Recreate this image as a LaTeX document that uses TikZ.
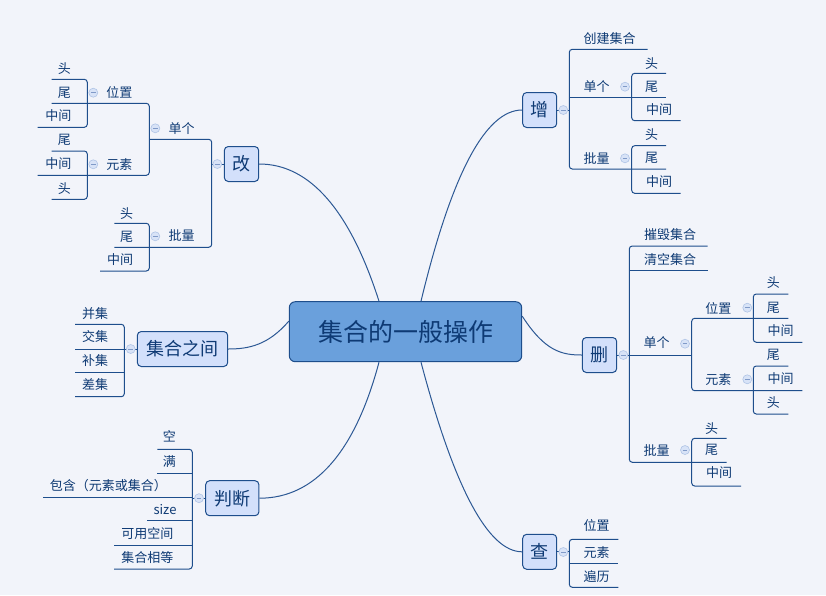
\documentclass[tikz,border=0pt]{standalone}
\usepackage{fontspec}
\newfontfamily\cjk{Noto Sans CJK SC}
\definecolor{bg}{RGB}{242,244,250}
\definecolor{navy}{RGB}{30,78,140}
\definecolor{ink}{RGB}{14,58,116}
\definecolor{rootfill}{RGB}{106,160,220}
\definecolor{subfill}{RGB}{211,224,251}
\definecolor{curve}{RGB}{44,88,148}
\definecolor{foldfill}{RGB}{216,227,247}
\definecolor{foldline}{RGB}{176,196,230}
\definecolor{foldmark}{RGB}{128,154,200}
\tikzset{
  root/.style={draw=navy, line width=1pt, fill=rootfill, rounded corners=6pt,
    minimum width=232.4pt, minimum height=60pt, inner sep=0pt,
    text=ink, font=\cjk\fontsize{25}{28}\selectfont},
  topic/.style={draw=navy, line width=1pt, fill=subfill, rounded corners=4pt,
    minimum height=35pt, inner sep=0pt, text=ink,
    font=\cjk\fontsize{18}{21}\selectfont},
  leaf/.style={inner sep=0pt, text=ink, font=\cjk\fontsize{13}{15}\selectfont},
  branch/.style={draw=navy, line width=1pt, rounded corners=3pt},
  conn/.style={draw=curve, line width=1pt},
  fold/.style={circle, draw=foldline, line width=0.6pt, fill=foldfill,
    minimum size=9pt, inner sep=0pt,
    path picture={\draw[foldmark, line width=0.8pt]
      ([xshift=-2.4pt]path picture bounding box.center) --
      ([xshift=2.4pt]path picture bounding box.center);}}
}
\begin{document}
\begin{tikzpicture}[x=1pt,y=-1pt]
\fill[bg] (0,0) rectangle (826,595);
\useasboundingbox (0,0) rectangle (826,595);

% central topic and main topics
\node[root] (root) at (405.5,331.7) {集合的一般操作};
\node[topic, minimum width=34pt] (zeng) at (539.7,110) {增};
\node[topic, minimum width=34.4pt] (shan) at (599.5,355) {删};
\node[topic, minimum width=34pt] (cha) at (539.7,551.8) {查};
\node[topic, minimum width=34.4pt] (gai) at (241.5,164) {改};
\node[topic, minimum width=90.4pt] (jhzj) at (182.5,349) {集合之间};
\node[topic, minimum width=53.3pt] (pd) at (232.3,498.2) {判断};

% curved connectors from the central topic
\draw[conn] ([xshift=15.5pt]root.north) .. controls (451.7,173.7) and (485.6,110) .. (zeng.west);
\draw[conn] ([xshift=-26.5pt]root.north) .. controls (349.7,209.7) and (309.4,164) .. (gai.east);
\draw[conn] ([xshift=-26.5pt]root.south) .. controls (355,452.1) and (314.8,498.2) .. (pd.east);
\draw[conn] ([xshift=15.5pt]root.south) .. controls (454.3,488.1) and (488.2,551.8) .. (cha.west);
\draw[conn] ([yshift=15.6pt]root.east) .. controls (545,351.5) and (562,355) .. (shan.west);
\draw[conn] ([yshift=10.6pt]root.west) .. controls (268,345.5) and (248,349) .. (jhzj.east);

% ---- 增 ----
\draw[branch] (zeng.east) -- (569.3,110);
\draw[branch] (647.7,49.3) -- (569.3,49.3) -- (569.3,169) -- (666,169);
\draw[branch] (569.3,97.7) -- (666,97.7);
\draw[branch] (666,73.3) -- (631.7,73.3) -- (631.7,120.7) -- (680.7,120.7);
\draw[branch] (666,145.7) -- (631.7,145.7) -- (631.7,193.3) -- (680.7,193.3);
\node[leaf] (z1) at (609.7,38.3) {创建集合};
\node[leaf] (z2) at (596.7,86.7) {单个};
\node[leaf] (z21) at (651.7,63.3) {头};
\node[leaf] (z22) at (651.7,86.7) {尾};
\node[leaf] (z23) at (659,110) {中间};
\node[leaf] (z3) at (596.7,158.3) {批量};
\node[leaf] (z31) at (651.7,135) {头};
\node[leaf] (z32) at (651.7,158.3) {尾};
\node[leaf] (z33) at (659,181.7) {中间};
\node[fold] (fz) at (563.3,110) {};
\node[fold] (fz2) at (625,86.7) {};
\node[fold] (fz3) at (625,158.3) {};

% ---- 删 ----
\draw[branch] (shan.east) -- (629.3,355);
\draw[branch] (707.7,246) -- (629.3,246) -- (629.3,462.3) -- (726.7,462.3);
\draw[branch] (629.3,270.7) -- (707.7,270.7);
\draw[branch] (629.3,355) -- (691.7,355);
\draw[branch] (788.3,318.3) -- (691.7,318.3) -- (691.7,390.7) -- (802.3,390.7);
\draw[branch] (788.3,294) -- (753.3,294) -- (753.3,342.3) -- (802.3,342.3);
\draw[branch] (788.3,366) -- (753.3,366) -- (753.3,414) -- (788.3,414);
\draw[branch] (726.7,438.3) -- (691.7,438.3) -- (691.7,486) -- (741,486);
\node[leaf] (s1) at (670,235) {摧毁集合};
\node[leaf] (s2) at (670,259.3) {清空集合};
\node[leaf] (s3) at (656.7,342.7) {单个};
\node[leaf] (s31) at (718.3,308.3) {位置};
\node[leaf] (s311) at (773.3,282.7) {头};
\node[leaf] (s312) at (773.3,308.3) {尾};
\node[leaf] (s313) at (780.7,331) {中间};
\node[leaf] (s32) at (718.3,379.3) {元素};
\node[leaf] (s321) at (773.3,355) {尾};
\node[leaf] (s322) at (780.7,378.3) {中间};
\node[leaf] (s323) at (773.3,402.7) {头};
\node[leaf] (s4) at (656.7,450) {批量};
\node[leaf] (s41) at (711.7,428.3) {头};
\node[leaf] (s42) at (711.7,450) {尾};
\node[leaf] (s43) at (719,473) {中间};
\node[fold] (fs) at (623.3,355) {};
\node[fold] (fs3) at (685,343.7) {};
\node[fold] (fs31) at (747.3,307.7) {};
\node[fold] (fs32) at (747.3,379.3) {};
\node[fold] (fs4) at (685,450) {};

% ---- 查 ----
\draw[branch] (cha.east) -- (569.3,551.8);
\draw[branch] (618.3,539.3) -- (569.3,539.3) -- (569.3,587.3) -- (618.3,587.3);
\draw[branch] (569.3,563.3) -- (618.3,563.3);
\node[leaf] (c1) at (596.7,525.7) {位置};
\node[leaf] (c2) at (596.7,552.7) {元素};
\node[leaf] (c3) at (596.7,576.7) {遍历};
\node[fold] (fc) at (563.3,552) {};

% ---- 改 ----
\draw[branch] (gai.west) -- (211.7,164);
\draw[branch] (149.3,139.3) -- (211.7,139.3) -- (211.7,247.3) -- (114.3,247.3);
\draw[branch] (51.7,103.3) -- (149.3,103.3) -- (149.3,175.3) -- (37.7,175.3);
\draw[branch] (51.7,79.3) -- (87.3,79.3) -- (87.3,127.3) -- (37.7,127.3);
\draw[branch] (51.7,151) -- (87.3,151) -- (87.3,199.3) -- (51.7,199.3);
\draw[branch] (114.3,223.3) -- (149.3,223.3) -- (149.3,271) -- (100,271);
\node[leaf] (g1) at (181.7,128.3) {单个};
\node[leaf] (g11) at (119.3,92.7) {位置};
\node[leaf] (g111) at (64.3,68.3) {头};
\node[leaf] (g112) at (64.3,92.7) {尾};
\node[leaf] (g113) at (58.3,116) {中间};
\node[leaf] (g12) at (119.3,165) {元素};
\node[leaf] (g121) at (64.3,140) {尾};
\node[leaf] (g122) at (58.3,164) {中间};
\node[leaf] (g123) at (64.3,188.3) {头};
\node[leaf] (g2) at (181.7,236) {批量};
\node[leaf] (g21) at (126.7,213.3) {头};
\node[leaf] (g22) at (126.7,237.3) {尾};
\node[leaf] (g23) at (120,260) {中间};
\node[fold] (fg) at (217.3,164) {};
\node[fold] (fg1) at (155.3,128.3) {};
\node[fold] (fg11) at (93.3,92.7) {};
\node[fold] (fg12) at (93.3,164.3) {};
\node[fold] (fg2) at (155.3,236.3) {};

% ---- 集合之间 ----
\draw[branch] (jhzj.west) -- (124.3,349);
\draw[branch] (75,324.3) -- (124.3,324.3) -- (124.3,396.7) -- (75,396.7);
\draw[branch] (124.3,349) -- (75,349);
\draw[branch] (124.3,372.3) -- (75,372.3);
\node[leaf] (j1) at (95,313.3) {并集};
\node[leaf] (j2) at (95,336.7) {交集};
\node[leaf] (j3) at (95,360.7) {补集};
\node[leaf] (j4) at (95,384.3) {差集};
\node[fold] (fj) at (130.7,349) {};

% ---- 判断 ----
\draw[branch] (pd.west) -- (192.3,498.2);
\draw[branch] (157.3,449.3) -- (192.3,449.3) -- (192.3,569) -- (114,569);
\draw[branch] (192.3,473.3) -- (157.3,473.3);
\draw[branch] (192.3,497.6) -- (43.3,497.6);
\draw[branch] (192.3,520.7) -- (147.3,520.7);
\draw[branch] (192.3,545) -- (114,545);
\node[leaf] (p1) at (169.3,436.7) {空};
\node[leaf] (p2) at (169.3,461.7) {满};
\node[leaf] (p3) at (108.3,486) {包含（元素或集合）};
\node[leaf] (p4) at (165,509.3) {size};
\node[leaf] (p5) at (147.3,533.3) {可用空间};
\node[leaf] (p6) at (147.3,557.3) {集合相等};
\node[fold] (fp) at (199,498.2) {};
\end{tikzpicture}
\end{document}
